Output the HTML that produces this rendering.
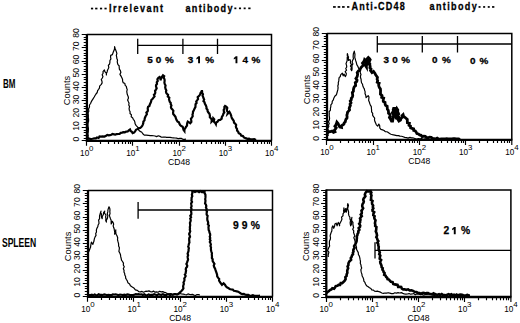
<!DOCTYPE html>
<html><head><meta charset="utf-8"><style>
html,body{margin:0;padding:0;background:#fff;}
body{width:520px;height:323px;overflow:hidden;}
svg{display:block;font-family:"Liberation Sans", sans-serif;}

</style></head><body><div id="w">
<svg width="520" height="323" viewBox="0 0 520 323">
<rect width="520" height="323" fill="#fff"/>
<g><path d="M86.7,34.6H271.5V140.8" fill="none" stroke="#000" stroke-width="1.5"/><path d="M86.9,34.1V140.8H272" fill="none" stroke="#000" stroke-width="2.3"/><path d="M86.7,140.5H81.7M86.7,138.5H83.7M86.7,135.5H83.7M86.7,132.5H83.7M86.7,130.5H83.7M86.7,127.5H81.7M86.7,124.5H83.7M86.7,122.5H83.7M86.7,119.5H83.7M86.7,116.5H83.7M86.7,114.5H81.7M86.7,111.5H83.7M86.7,108.5H83.7M86.7,106.5H83.7M86.7,103.5H83.7M86.7,100.5H81.7M86.7,98.5H83.7M86.7,95.5H83.7M86.7,93.5H83.7M86.7,90.5H83.7M86.7,87.5H81.7M86.7,85.5H83.7M86.7,82.5H83.7M86.7,79.5H83.7M86.7,77.5H83.7M86.7,74.5H81.7M86.7,71.5H83.7M86.7,69.5H83.7M86.7,66.5H83.7M86.7,63.5H83.7M86.7,61.5H81.7M86.7,58.5H83.7M86.7,55.5H83.7M86.7,53.5H83.7M86.7,50.5H83.7M86.7,47.5H81.7M86.7,45.5H83.7M86.7,42.5H83.7M86.7,39.5H83.7M86.7,37.5H83.7M86.7,34.5H81.7M86.5,140.8V145.8M100.5,140.8V144M108.5,140.8V144M114.5,140.8V144M118.5,140.8V144M122.5,140.8V144M125.5,140.8V144M128.5,140.8V144M130.5,140.8V144M132.5,140.8V145.8M146.5,140.8V144M154.5,140.8V144M160.5,140.8V144M165.5,140.8V144M168.5,140.8V144M171.5,140.8V144M174.5,140.8V144M176.5,140.8V144M179.5,140.8V145.8M193.5,140.8V144M201.5,140.8V144M206.5,140.8V144M211.5,140.8V144M215.5,140.8V144M218.5,140.8V144M220.5,140.8V144M223.5,140.8V144M225.5,140.8V145.8M239.5,140.8V144M247.5,140.8V144M253.5,140.8V144M257.5,140.8V144M261.5,140.8V144M264.5,140.8V144M267.5,140.8V144M269.5,140.8V144M271.5,140.8V145.8" stroke="#000" stroke-width="1.15" fill="none"/><text transform="translate(79.1,139.2) rotate(-90)" text-anchor="middle" font-size="8.6">0</text><text transform="translate(79.1,125.93) rotate(-90)" text-anchor="middle" font-size="8.6">10</text><text transform="translate(79.1,112.65) rotate(-90)" text-anchor="middle" font-size="8.6">20</text><text transform="translate(79.1,99.38) rotate(-90)" text-anchor="middle" font-size="8.6">30</text><text transform="translate(79.1,86.1) rotate(-90)" text-anchor="middle" font-size="8.6">40</text><text transform="translate(79.1,72.83) rotate(-90)" text-anchor="middle" font-size="8.6">50</text><text transform="translate(79.1,59.55) rotate(-90)" text-anchor="middle" font-size="8.6">60</text><text transform="translate(79.1,46.27) rotate(-90)" text-anchor="middle" font-size="8.6">70</text><text transform="translate(79.1,33) rotate(-90)" text-anchor="middle" font-size="8.6">80</text><text transform="translate(69.7,90.5) rotate(-90)" text-anchor="middle" font-size="9.3">Counts</text><text x="80.1" y="155.8" font-size="8.2">10</text><text x="89.1" y="151.1" font-size="7.9">0</text><text x="126.3" y="155.8" font-size="8.2">10</text><text x="135.3" y="151.1" font-size="7.9">1</text><text x="172.5" y="155.8" font-size="8.2">10</text><text x="181.5" y="151.1" font-size="7.9">2</text><text x="218.7" y="155.8" font-size="8.2">10</text><text x="227.7" y="151.1" font-size="7.9">3</text><text x="264.9" y="155.8" font-size="8.2">10</text><text x="273.9" y="151.1" font-size="7.9">4</text><text x="179.1" y="165" text-anchor="middle" font-size="8.6">CD48</text><path d="M137.7,45.4H271.5M137.7,38.7V54M182.9,38.7V54M217.5,38.7V54" stroke="#000" stroke-width="1.3" fill="none"/><polyline points="88.7,139 88.07,137.28 88.28,135.51 87.94,133.78 88.3,132 88.35,130.17 88.45,128.34 88.11,126.52 88,124.7 88.13,122.85 88.6,121.02 88.56,119.16 88.3,117.3 88.38,115.8 88.24,114.27 88.14,112.76 88.8,111.3 88.52,109 89.5,106.9 89.45,105.01 90.6,103.5 91.15,102 91.9,100.6 93.06,98.81 94.2,97 95.05,95.47 96,94 97.22,92.5 97.6,90.6 98.66,89.27 99.51,87.86 99.6,86.1 101.3,84.4 102.12,82.88 101.97,81.23 101.27,79.51 102.32,78.02 102.96,76.48 102.13,74.74 103.12,73.24 103,71.6 104.4,69.9 104.84,71.69 106.28,73.08 106.4,75 106.35,73.37 107.13,71.97 107.42,70.43 108.1,69 108.81,67.39 108.33,65.47 109.57,64.01 109.9,62.3 109.92,60.55 110.93,58.92 110.56,57.13 110.7,55.4 112.4,54.6 113.3,52 114.1,50.29 114.57,48.5 114.6,46.6 115.09,48.49 115.8,50.3 116.43,51.95 116.88,53.62 116.31,55.42 116.7,57.1 116.83,58.61 117.53,60.04 117.25,61.61 117.5,63.1 117.94,64.58 119.12,65.77 119.2,67.4 119.36,69.14 120.4,70.7 120.87,72.37 119.95,74.32 120.9,75.9 121.74,77.51 122.52,79.14 122.6,81 123.14,82.63 124.89,83.53 125.2,85.3 126.31,86.44 126.6,88 127.24,89.65 126.77,91.43 127.01,93.12 127.4,94.8 128.16,96.43 128.5,98.11 127.62,99.96 128.3,101.6 129.05,103.23 128.75,104.99 129.56,106.62 129.1,108.4 129.32,110.15 130.13,111.79 130,113.6 131.42,114.66 131.2,116.73 132.6,117.8 133.28,119.28 134.37,120.59 134.88,122.13 135.1,123.8 136.17,125.67 137.7,127.2 138.44,128.65 138.81,130.33 140.2,131.4 141.83,132.25 142.8,133.8 144.26,135.09 146.2,135.2 148.3,135.42 150.4,135.6 151.95,135.58 153.47,135.78 155,136 156.63,136.64 158.37,135.77 160,136.4 161.59,137.27 163.29,137.12 165,137 166.64,137.43 168.32,137.46 170,137.4 171.66,137.66 173.33,137.82 175,138 176.67,138.09 178.3,138.7 180,138.4 181.53,138.41 182.93,139.31 184.46,139.31 186,139.2" fill="none" stroke="#000" stroke-width="1.2" stroke-linejoin="round"/><polyline stroke-width="2.2" points="87.4,139.5 88.5,138.5 90.8,139.1 92.49,138.78 94.17,138.39 95.9,138.3 97.01,137.39 98.61,137.94 99.51,136.37 101,136.6 102.7,136.3 104.5,136.55 106.1,135.7 107.3,134.9 108.71,135.32 110.03,135.19 111.3,134.8 112.58,134 114,134.31 115.41,134.6 116.73,134.09 118.1,134 119.54,133.97 120.7,132.85 122.09,132.62 123.41,132.11 124.9,132.3 126.18,131.61 127.74,131.42 128.79,130.31 130,129.5 130.56,130.92 131.87,131.8 132.6,133.1 134.04,132.53 135.1,131.4 136.01,129.75 137.7,128.9 138.85,128.17 140.2,128 141.26,127.01 142.18,125.93 142.8,124.6 143.27,123.16 143.4,121.58 144.5,120.4 144.62,119.02 144.96,117.72 145.48,116.48 146.2,115.3 146.92,114.05 146.39,112.53 147.63,111.4 147.92,110.06 147.7,108.6 148.03,106.96 149.4,106 149.81,104.5 150.52,103.13 151.1,101.7 151.36,99.96 152.68,98.85 153.6,97.5 154.56,96.4 153.93,94.78 155,93.72 155.3,92.4 155.06,90.88 155.97,89.59 156.69,88.26 156.03,86.65 156.04,85.18 157,83.9 156.78,82.27 157.75,80.91 157.39,79.25 158.4,77.9 159.6,77 160.57,78.57 160.4,80.4 161.1,78.7 161.8,77 163,75.3 164.2,76.2 163.71,77.78 164.51,79.27 164.64,80.81 164.41,82.37 164.7,83.9 165.56,85.5 165.19,87.32 165.6,89 166.32,90.31 165.98,91.83 166.4,93.2 168.1,94.9 167.77,96.46 169.31,97.64 169,99.2 169.35,100.5 169.71,101.8 170.74,102.87 170.7,104.3 171.43,105.47 170.89,107.07 171.31,108.35 172.4,109.4 173.38,110.71 173.08,112.44 173.22,114.02 174.3,115.3 175.48,116.84 176,118.7 176.66,120.23 177.6,121.6 178.95,122.35 179.42,123.76 180.1,125 181.27,126.05 182.7,126.7 183.15,128.18 183.48,129.71 184.4,131 184.43,129.35 185.33,128.05 186.1,126.7 187.01,125.59 187.06,124.19 187.31,122.85 187.8,121.6 189.13,122.34 190.3,123.3 191.38,122.01 191.25,120.38 190.93,118.69 192,117.4 192.75,116.14 192.45,114.62 192.93,113.3 192.97,111.86 193.7,110.6 194.48,108.82 195.4,107.1 195.5,105.68 195.52,104.24 196.6,103.06 196.22,101.53 197.1,100.3 198.07,99.06 197.69,97.24 198.9,96.1 200.1,94.58 200.6,92.7 201.64,91.59 201.9,90.1 202.14,91.46 202.09,92.87 202.97,94.12 202.53,95.6 203.1,96.9 203.54,98.23 204.15,99.53 203.49,101.14 204.59,102.31 204.8,103.7 205.81,105.32 206.5,107.1 206.45,108.56 207.52,109.64 207.55,111.07 208.2,112.3 209.46,113.79 209.9,115.7 209.86,117.31 211.07,118.56 211.78,119.95 211.6,121.6 213.05,120.2 213.3,118.2 214.24,119.22 213.77,120.85 214.24,122.07 215.24,123.06 215.9,124.2 216.18,122.53 217.6,121.6 218.5,120.24 220.1,119.9 221.7,118.7 221.74,117.3 222.4,116.1 223.12,114.92 223.4,113.6 224.32,112.46 223.77,110.99 223.76,109.64 224.62,108.49 224.32,107.07 225.1,105.9 226.5,106.7 227.31,107.98 226.9,109.47 226.95,110.89 228.06,112.12 227.7,113.6 229.4,111.9 230.31,113.57 231.1,115.3 231.4,116.81 231.89,118.24 232.8,119.5 233.77,120.85 234,122.64 235.3,123.8 236.16,124.93 235.86,126.45 236.21,127.75 237,128.9 237.07,130.5 238.14,131.7 238.7,133.1 240.4,134 241.3,135.7 242.95,136.02 243.9,137.4 245.58,138.14 247.3,138.8 249.05,138.55 250.68,139.38 252.4,139.4 254.3,139.13 256,140" fill="none" stroke="#000" stroke-linejoin="miter"/></g>
<g><path d="M326.8,33.4H511.8V139.9" fill="none" stroke="#000" stroke-width="1.5"/><path d="M327,32.9V139.9H512.3" fill="none" stroke="#000" stroke-width="2.3"/><path d="M326.8,139.5H321.8M326.8,137.5H323.8M326.8,134.5H323.8M326.8,131.5H323.8M326.8,129.5H323.8M326.8,126.5H321.8M326.8,123.5H323.8M326.8,121.5H323.8M326.8,118.5H323.8M326.8,115.5H323.8M326.8,113.5H321.8M326.8,110.5H323.8M326.8,107.5H323.8M326.8,105.5H323.8M326.8,102.5H323.8M326.8,99.5H321.8M326.8,97.5H323.8M326.8,94.5H323.8M326.8,91.5H323.8M326.8,89.5H323.8M326.8,86.5H321.8M326.8,83.5H323.8M326.8,81.5H323.8M326.8,78.5H323.8M326.8,76.5H323.8M326.8,73.5H321.8M326.8,70.5H323.8M326.8,68.5H323.8M326.8,65.5H323.8M326.8,62.5H323.8M326.8,60.5H321.8M326.8,57.5H323.8M326.8,54.5H323.8M326.8,52.5H323.8M326.8,49.5H323.8M326.8,46.5H321.8M326.8,44.5H323.8M326.8,41.5H323.8M326.8,38.5H323.8M326.8,36.5H323.8M326.8,33.5H321.8M326.5,139.9V144.9M340.5,139.9V143.1M348.5,139.9V143.1M354.5,139.9V143.1M359.5,139.9V143.1M362.5,139.9V143.1M365.5,139.9V143.1M368.5,139.9V143.1M370.5,139.9V143.1M373.5,139.9V144.9M386.5,139.9V143.1M395.5,139.9V143.1M400.5,139.9V143.1M405.5,139.9V143.1M409.5,139.9V143.1M412.5,139.9V143.1M414.5,139.9V143.1M417.5,139.9V143.1M419.5,139.9V144.9M433.5,139.9V143.1M441.5,139.9V143.1M447.5,139.9V143.1M451.5,139.9V143.1M455.5,139.9V143.1M458.5,139.9V143.1M461.5,139.9V143.1M463.5,139.9V143.1M465.5,139.9V144.9M479.5,139.9V143.1M487.5,139.9V143.1M493.5,139.9V143.1M497.5,139.9V143.1M501.5,139.9V143.1M504.5,139.9V143.1M507.5,139.9V143.1M509.5,139.9V143.1M511.8,139.9V144.9" stroke="#000" stroke-width="1.15" fill="none"/><text transform="translate(319.2,138.3) rotate(-90)" text-anchor="middle" font-size="8.6">0</text><text transform="translate(319.2,124.99) rotate(-90)" text-anchor="middle" font-size="8.6">10</text><text transform="translate(319.2,111.68) rotate(-90)" text-anchor="middle" font-size="8.6">20</text><text transform="translate(319.2,98.36) rotate(-90)" text-anchor="middle" font-size="8.6">30</text><text transform="translate(319.2,85.05) rotate(-90)" text-anchor="middle" font-size="8.6">40</text><text transform="translate(319.2,71.74) rotate(-90)" text-anchor="middle" font-size="8.6">50</text><text transform="translate(319.2,58.43) rotate(-90)" text-anchor="middle" font-size="8.6">60</text><text transform="translate(319.2,45.11) rotate(-90)" text-anchor="middle" font-size="8.6">70</text><text transform="translate(319.2,31.8) rotate(-90)" text-anchor="middle" font-size="8.6">80</text><text transform="translate(309.8,89.45) rotate(-90)" text-anchor="middle" font-size="9.3">Counts</text><text x="320.2" y="154.9" font-size="8.2">10</text><text x="329.2" y="150.2" font-size="7.9">0</text><text x="366.45" y="154.9" font-size="8.2">10</text><text x="375.45" y="150.2" font-size="7.9">1</text><text x="412.7" y="154.9" font-size="8.2">10</text><text x="421.7" y="150.2" font-size="7.9">2</text><text x="458.95" y="154.9" font-size="8.2">10</text><text x="467.95" y="150.2" font-size="7.9">3</text><text x="505.2" y="154.9" font-size="8.2">10</text><text x="514.2" y="150.2" font-size="7.9">4</text><text x="419.3" y="164.1" text-anchor="middle" font-size="8.6">CD48</text><path d="M377.3,44H511.8M377.3,36V52.5M422.3,36V52.5M457.5,36V52.5" stroke="#000" stroke-width="1.3" fill="none"/><polyline points="328.3,136 327.88,134.42 328.5,132.86 328.28,131.28 328.17,129.71 327.79,128.13 328.81,126.58 328.5,125 329.23,123.41 328.44,121.72 329.26,120.14 329.56,118.53 329.4,116.88 329.18,115.23 329.3,113.6 329.11,111.75 330.46,110.22 330.4,108.4 330.82,106.65 330.87,104.78 332.1,103.3 332.22,101.45 333.34,99.94 333.8,98.2 334.79,96.26 336.4,94.8 337.2,92 337.79,89.88 338.1,87.7 337.79,85.96 338.35,84.29 338.27,82.57 338.77,80.9 338.9,79.2 339.12,77.63 340.35,76.46 340.6,74.9 342.3,73.2 343.2,75.8 344,74.1 345.4,76.6 346.15,75.04 346.29,73.43 345.17,71.71 346.59,70.21 345.74,68.52 346.74,66.98 346.55,65.34 345.99,63.67 346.6,62.1 347.18,60.44 347.2,58.73 347.24,57.01 347.92,55.36 347.4,53.6 347.21,55.39 348.54,56.9 348.31,58.7 348.6,60.4 350,59.6 350.6,61.13 350.39,62.79 351.41,64.25 350.43,66.03 351.47,67.49 350.85,69.21 351.7,70.7 352.09,69 352.01,67.27 352,65.54 352.88,63.88 352.13,62.09 352.6,60.4 353.48,58.78 353.14,57.02 353.22,55.3 353.4,53.6 354.3,51.1 354.6,52.64 354.94,54.17 354.88,55.76 354.75,57.36 355.24,58.87 355.6,60.4 356.34,62.51 356.8,64.7 357.85,66.3 358.5,68.1 359.22,69.87 360.2,71.5 360.34,73.04 360.98,74.53 360.46,76.15 360.56,77.7 361.1,79.2 361.22,80.99 361.52,82.73 362.52,84.28 362.9,86 363.46,87.46 364.32,88.84 364.61,90.37 365.16,91.84 365,93.5 365.8,95.54 366.1,97.7 368.2,95.6 368.97,97.09 368.82,98.74 368.64,100.39 369.3,101.9 369.76,103.52 370.37,105.09 371.3,106.56 371.4,108.3 371.6,110.03 371.59,111.82 372.72,113.33 372.6,115.14 373.5,116.7 374.67,118.09 374.48,119.92 374.92,121.55 375.6,123.1 376.36,124.84 377.7,126.2 378.8,124.1 379.74,125.77 379.74,127.82 380.9,129.4 382.54,129.83 384.1,130.5 385.24,131.71 386.97,131.75 388.3,132.6 389.59,133.52 390.97,134.27 392.5,134.7 394.65,135.2 396.8,135.7 398.44,135.62 399.96,136.18 401.57,136.26 403.1,136.8 404.75,137.41 406.45,137.62 408.12,138.07 409.94,137.36 411.6,137.9 413.3,137.94 414.93,138.56 416.56,139.14 418.33,138.65 420,138.9 421.7,138.49 423.29,139.4 425.02,138.93 426.68,139.1 428.32,139.4 430,139.5" fill="none" stroke="#000" stroke-width="1.2" stroke-linejoin="round"/><polyline stroke-width="2.8" points="327.5,131.8 329,131.73 330.5,131.57 332,131.15 333.5,132.46 335,131.8 334.28,130.34 335.32,129.08 336.19,127.8 334.89,126.27 335.8,125 336.44,123.58 336.9,122.1 338.2,123.6 338.81,125.39 339.8,127 341.5,127.4 341.3,125.86 342.6,125 343.9,124.1 344.23,122.81 345.3,121.85 345.5,120.5 345.95,119.2 346.94,118.12 347.1,116.7 346.85,115.15 347.34,113.79 347.47,112.33 348.51,111.1 349.59,109.89 349.2,108.3 349.71,106.92 350.38,105.59 350.05,104 351.03,102.74 350.25,101.04 351.3,99.8 351.29,98.29 352.3,97.04 352.74,95.65 352.56,94.1 352.33,92.54 353.4,91.3 353.42,89.72 353.74,88.24 354.28,86.81 355.62,85.61 355.5,84 355.27,82.55 356.78,81.49 357.07,80.15 355.92,78.49 356.79,77.29 357.3,76 357.65,74.33 357.2,72.48 358.4,71 359.8,70.5 360.27,68.95 361,67.5 362.5,66 363.54,64.84 362.49,63.16 363.5,62 364.21,60.82 364.6,59.5 365.69,60.52 365.5,62 365.66,63.69 365.4,65.46 366.4,67 366.34,65.35 367.3,64 366.63,62.57 366.96,61.29 367.97,60.11 367.24,58.67 368.3,57.5 369.3,58.5 370.15,59.74 369.51,61.1 368.84,62.46 369.84,63.69 369.8,65 370.16,66.35 369.9,67.78 371.05,69.03 370.5,70.5 372,72.5 373.5,71.5 375,73.5 375.63,74.82 376.5,76 377.47,77.42 377.11,79.18 377.7,80.7 377.24,82.26 379.16,83.23 378.62,84.8 378.87,86.19 379.4,87.5 380.38,88.85 380.54,90.4 380.5,92 380.43,94.14 382,95.6 381.68,97.31 383.67,98.16 383.2,99.93 383.31,101.48 385.03,102.44 385.1,104 385.56,105.37 387.12,106.19 387.24,107.73 387.38,109.26 388.3,110.4 388.49,111.84 388.52,113.32 390.07,114.42 389.97,115.93 389.41,117.56 390.4,118.8 391.5,121 392.6,121 392.86,119.62 392.73,118.22 392.76,116.82 393.92,115.51 393.29,114.07 392.4,112.6 393.91,111.32 393.18,109.86 393.6,108.5 394.7,108.5 394.94,109.86 395.46,111.2 395.18,112.62 395.51,113.97 396.06,115.31 395.22,116.77 396.29,118.06 395.7,119.5 396.35,118.18 395.12,116.66 396.62,115.43 396.8,114.06 396.38,112.62 396.9,111.29 396.21,109.83 396.8,108.5 397.8,110 397.51,111.42 398.21,112.74 398.69,114.08 397.52,115.58 398.66,116.86 398.85,118.23 398.12,119.69 398.9,121 400.5,120 400.94,118.55 402.07,117.43 401.92,115.69 403.1,114.6 403.65,116.41 405.2,117.5 406.27,118.44 407.29,119.42 407.3,121 407.37,122.75 409.4,123.29 409.02,125.32 410.5,126.2 410.6,127.8 411.95,128.46 413.6,128.9 413.7,130.5 415.32,130.97 416.2,132.19 416.9,133.6 418.38,133.98 419.62,134.92 421.1,135.3 422.12,136.61 423.85,136.11 425.31,136.27 426.4,137.4 427.96,137.74 429.64,137.2 431.23,137.34 432.7,138.3 434.15,138.58 435.58,138.9 437.18,138.06 438.55,138.9 440,139.2 441.33,138.9 442.66,138.9 444,138.9 445.32,138.9 446.68,138.7 447.99,138.9 449.33,138.9 450.66,138.9 452,138.9 453.34,138.68 454.68,138.61 456,138.9 457.34,138.87 458.66,138.9 460,139.5" fill="none" stroke="#000" stroke-linejoin="miter"/></g>
<g><path d="M87.8,190.4H272.5V296.8" fill="none" stroke="#000" stroke-width="1.5"/><path d="M88,189.9V296.8H273" fill="none" stroke="#000" stroke-width="2.3"/><path d="M87.8,296.5H82.8M87.8,294.5H84.8M87.8,291.5H84.8M87.8,288.5H84.8M87.8,286.5H84.8M87.8,283.5H82.8M87.8,280.5H84.8M87.8,278.5H84.8M87.8,275.5H84.8M87.8,272.5H84.8M87.8,270.5H82.8M87.8,267.5H84.8M87.8,264.5H84.8M87.8,262.5H84.8M87.8,259.5H84.8M87.8,256.5H82.8M87.8,254.5H84.8M87.8,251.5H84.8M87.8,248.5H84.8M87.8,246.5H84.8M87.8,243.5H82.8M87.8,240.5H84.8M87.8,238.5H84.8M87.8,235.5H84.8M87.8,232.5H84.8M87.8,230.5H82.8M87.8,227.5H84.8M87.8,224.5H84.8M87.8,222.5H84.8M87.8,219.5H84.8M87.8,217.5H82.8M87.8,214.5H84.8M87.8,211.5H84.8M87.8,209.5H84.8M87.8,206.5H84.8M87.8,203.5H82.8M87.8,201.5H84.8M87.8,198.5H84.8M87.8,195.5H84.8M87.8,193.5H84.8M87.8,190.5H82.8M87.5,296.8V301.8M101.5,296.8V300M109.5,296.8V300M115.5,296.8V300M120.5,296.8V300M123.5,296.8V300M126.5,296.8V300M129.5,296.8V300M131.5,296.8V300M133.5,296.8V301.8M147.5,296.8V300M156.5,296.8V300M161.5,296.8V300M166.5,296.8V300M169.5,296.8V300M172.5,296.8V300M175.5,296.8V300M178.5,296.8V300M180.5,296.8V301.8M194.5,296.8V300M202.5,296.8V300M207.5,296.8V300M212.5,296.8V300M216.5,296.8V300M219.5,296.8V300M221.5,296.8V300M224.5,296.8V300M226.5,296.8V301.8M240.5,296.8V300M248.5,296.8V300M254.5,296.8V300M258.5,296.8V300M262.5,296.8V300M265.5,296.8V300M268.5,296.8V300M270.5,296.8V300M272.5,296.8V301.8" stroke="#000" stroke-width="1.15" fill="none"/><text transform="translate(80.2,295.2) rotate(-90)" text-anchor="middle" font-size="8.6">0</text><text transform="translate(80.2,281.9) rotate(-90)" text-anchor="middle" font-size="8.6">10</text><text transform="translate(80.2,268.6) rotate(-90)" text-anchor="middle" font-size="8.6">20</text><text transform="translate(80.2,255.3) rotate(-90)" text-anchor="middle" font-size="8.6">30</text><text transform="translate(80.2,242) rotate(-90)" text-anchor="middle" font-size="8.6">40</text><text transform="translate(80.2,228.7) rotate(-90)" text-anchor="middle" font-size="8.6">50</text><text transform="translate(80.2,215.4) rotate(-90)" text-anchor="middle" font-size="8.6">60</text><text transform="translate(80.2,202.1) rotate(-90)" text-anchor="middle" font-size="8.6">70</text><text transform="translate(80.2,188.8) rotate(-90)" text-anchor="middle" font-size="8.6">80</text><text transform="translate(70.8,246.4) rotate(-90)" text-anchor="middle" font-size="9.3">Counts</text><text x="81.2" y="311.8" font-size="8.2">10</text><text x="90.2" y="307.1" font-size="7.9">0</text><text x="127.38" y="311.8" font-size="8.2">10</text><text x="136.38" y="307.1" font-size="7.9">1</text><text x="173.55" y="311.8" font-size="8.2">10</text><text x="182.55" y="307.1" font-size="7.9">2</text><text x="219.72" y="311.8" font-size="8.2">10</text><text x="228.72" y="307.1" font-size="7.9">3</text><text x="265.9" y="311.8" font-size="8.2">10</text><text x="274.9" y="307.1" font-size="7.9">4</text><text x="180.15" y="321" text-anchor="middle" font-size="8.6">CD48</text><path d="M138.1,210H272.5M138.1,201.9V218.7" stroke="#000" stroke-width="1.3" fill="none"/><polyline points="88.3,252.5 89.21,250.7 89.9,248.8 90.54,247.36 90.7,245.8 91.03,243.95 91.4,242.1 92.9,244.3 93.43,242.64 94,241 94.34,238.89 95.1,236.9 96.02,235.4 95.71,233.54 96.5,232 96.35,230.12 96.85,228.4 97.78,226.77 98.1,225 98.98,223.54 98.9,221.86 98.6,220.13 99.6,218.7 99.54,217.12 99.61,215.56 100.19,214.09 100.48,212.58 101,211.1 100.68,212.71 101.5,214.14 101.28,215.73 101.54,217.25 102.2,218.7 102.29,216.45 103.4,214.5 103.57,212.62 104.7,211.1 104.39,213.16 105.99,214.93 105.6,217 105.95,218.69 105.72,220.46 106.4,222.1 106.28,220.35 107.23,218.75 107.63,217.07 107.81,215.36 107.28,213.56 107.8,211.9 107.88,210.13 108.39,208.45 109,206.8 109.8,208.44 109.97,210.14 109.82,211.87 110.04,213.56 109.42,215.33 109.9,217 110.45,218.68 111.16,220.33 111.15,222.12 111.2,223.9 112.4,221.3 113.21,222.7 113.66,224.17 113.16,225.83 113.6,227.3 114.21,228.95 114.42,230.65 114.78,232.34 114.6,234.1 115.35,231.99 115.8,229.8 115.7,231.38 115.8,232.92 116.12,234.42 117,235.8 117.7,237.7 117.5,239.76 118,241.7 118.6,243.81 118.6,246 119.41,247.66 119.21,249.5 118.9,251.35 119.8,253 120.48,254.78 120.72,256.67 121.2,258.5 121.51,260.15 122.5,261.5 123.47,263.12 123.3,265 124.25,266.7 123.32,268.68 124.1,270.4 123.96,272.05 124.68,273.49 124.82,275.08 125.6,276.5 125.66,278.16 126.45,279.54 127.3,280.9 127.93,282.84 129.6,284 130.4,285.69 131.9,286.8 134.2,288.3 135.37,289.91 137.3,290.4 138.65,291.56 140.4,291.9 142.01,291.41 143.5,292.2 145.8,291.2 147.34,291.29 148.92,290.87 150.4,291.6 151.91,291.99 153.48,291.11 154.96,292.15 156.5,291.9 158.07,292.27 159.63,291.26 161.2,291.9 162.84,291.58 164.26,292.46 165.8,292.7 167.22,293.6 168.75,293.89 170.4,293.5 171.88,294.05 173.4,294.28 175,293.78 176.5,294.2 178.14,294.23 179.6,293.5 181.38,293.92 183.21,294.1 185,294.5 186.49,294.79 188.02,293.93 189.51,294.41 191,294.67 192.51,294.34 193.99,295.09 195.48,295.52 197.01,294.55 198.51,294.63 200,295" fill="none" stroke="#000" stroke-width="1.2" stroke-linejoin="round"/><polyline stroke-width="2.2" points="87.8,295.3 89.15,295.2 90.5,295.04 91.85,294.7 93.24,295.52 94.55,294.43 95.93,294.97 97.31,295.39 98.62,294.35 100,294.8 101.43,294.89 102.85,295 104.3,294.33 105.72,294.77 107.14,295.19 108.57,294.91 110,295 111.44,295.21 112.84,294.47 114.27,294.51 115.7,294.3 117.14,294.72 118.59,295.17 120,294.6 121.42,294.77 122.84,295.04 124.29,294.63 125.7,295.12 127.16,294.41 128.58,294.69 130,295 131.44,295.14 132.87,295.13 134.28,294.69 135.69,294.22 137.13,294.36 138.55,294.22 140,294.5 141.44,294.31 142.84,295.01 144.3,294.35 145.69,295.25 147.12,295.31 148.6,294.39 150,295 151.42,294.8 152.86,294.88 154.26,294.26 155.71,294.68 157.16,295.2 158.55,294.19 160,294.6 161.42,294.77 162.88,294.26 164.28,294.87 165.7,295.3 167.16,294.53 168.6,294.35 170,295 171.37,294.42 172.8,294.89 174.17,294.18 175.57,294.18 177,294.6 178.8,293.5 180,292.35 181.2,291.2 182.7,289.6 183.45,288.29 183.11,286.78 183.33,285.38 183.86,284.03 183.47,282.51 184.2,281.2 184.52,279.89 184.27,278.48 185.01,277.24 185.66,275.98 184.82,274.47 185.64,273.24 185.8,271.9 186.1,270.6 185.73,269.22 186.04,267.92 187.07,266.72 187.25,265.41 186.38,263.96 187,262.7 187.51,261.17 188.07,259.66 187.8,258 187.6,256.56 188.15,255.17 187.58,253.7 188.08,252.31 188.56,250.92 188.57,249.49 188.9,248.09 188.19,246.6 188.61,245.21 188.9,243.8 189.45,242.43 189.23,241.01 189.18,239.6 189.23,238.19 190.04,236.85 189.66,235.41 189.11,233.95 189.8,232.6 190.25,231.24 189.77,229.81 189.98,228.43 189.81,227.03 190.17,225.66 190.12,224.26 189.92,222.86 190.5,221.5 190.74,220.11 190.2,218.67 191.1,217.32 190.28,215.86 191.27,214.52 191.39,213.12 191.11,211.7 191.2,210.3 191.5,208.92 191,207.51 191.63,206.15 191.31,204.75 191.13,203.35 192.06,202 191.43,200.58 191.6,199.2 191.59,197.67 192.31,196.2 191.86,194.63 192.36,193.14 192.3,191.6 193.67,191.21 195.03,192.01 196.4,191.31 197.77,191.06 199.13,192.17 200.5,191.21 201.87,192.14 203.23,192.18 204.6,191.6 204.59,193.13 205.42,194.59 205.49,196.12 205.43,197.65 205.2,199.2 205.47,200.57 205.34,201.99 205.06,203.42 205.92,204.73 206.32,206.09 205.95,207.53 206.6,208.87 206.3,210.3 206.99,211.63 206.63,213.11 206.67,214.53 207.62,215.83 207.36,217.29 207.26,218.73 207.39,220.14 207.9,221.5 208.24,222.87 207.84,224.34 208.89,225.61 208.44,227.09 208.58,228.48 208.65,229.89 209.31,231.21 209.5,232.6 210.07,233.91 210.22,235.24 209.74,236.62 210.25,237.93 209.79,239.31 210.54,240.61 209.79,242 210.55,243.3 210.89,244.62 210.4,246 211.01,247.4 210.91,248.91 211.02,250.38 211.45,251.81 211.93,253.22 211.79,254.74 212,256.2 211.85,257.88 212.71,259.31 212.61,260.97 213.5,262.4 214.45,263.81 213.73,265.65 214.25,267.17 215.1,268.6 215.55,270.15 216.07,271.68 216.6,273.2 217.09,274.78 217.2,276.49 218.2,277.9 219.18,278.98 219.04,280.5 219.7,281.7 220.81,283.28 222,284.8 223.6,283.3 224.94,284.71 225.9,286.4 226.9,287.38 228.2,287.9 229.63,288.94 231.3,289.5 232.77,289.56 233.81,290.72 235.2,291 236.76,291.35 238.3,291.8 239.61,292.56 240.82,293.47 242.2,294.1 243.83,293.84 245.25,294.76 246.8,294.9 248.35,294.95 249.81,295.75 251.4,295.5 252.84,295.21 254.26,295.8 255.69,295.8 257.13,295.78 258.56,295.8 260,295.7" fill="none" stroke="#000" stroke-linejoin="miter"/></g>
<g><path d="M326.1,190H510.9V297" fill="none" stroke="#000" stroke-width="1.5"/><path d="M326.3,189.5V297H511.4" fill="none" stroke="#000" stroke-width="2.3"/><path d="M326.1,297.5H321.1M326.1,294.5H323.1M326.1,291.5H323.1M326.1,288.5H323.1M326.1,286.5H323.1M326.1,283.5H321.1M326.1,280.5H323.1M326.1,278.5H323.1M326.1,275.5H323.1M326.1,272.5H323.1M326.1,270.5H321.1M326.1,267.5H323.1M326.1,264.5H323.1M326.1,262.5H323.1M326.1,259.5H323.1M326.1,256.5H321.1M326.1,254.5H323.1M326.1,251.5H323.1M326.1,248.5H323.1M326.1,246.5H323.1M326.1,243.5H321.1M326.1,240.5H323.1M326.1,238.5H323.1M326.1,235.5H323.1M326.1,232.5H323.1M326.1,230.5H321.1M326.1,227.5H323.1M326.1,224.5H323.1M326.1,222.5H323.1M326.1,219.5H323.1M326.1,216.5H321.1M326.1,214.5H323.1M326.1,211.5H323.1M326.1,208.5H323.1M326.1,206.5H323.1M326.1,203.5H321.1M326.1,200.5H323.1M326.1,198.5H323.1M326.1,195.5H323.1M326.1,192.5H323.1M326.1,190.5H321.1M326.5,297V302M340.5,297V300.2M348.5,297V300.2M353.5,297V300.2M358.5,297V300.2M362.5,297V300.2M365.5,297V300.2M367.5,297V300.2M370.5,297V300.2M372.5,297V302M386.5,297V300.2M394.5,297V300.2M400.5,297V300.2M404.5,297V300.2M408.5,297V300.2M411.5,297V300.2M414.5,297V300.2M416.5,297V300.2M418.5,297V302M432.5,297V300.2M440.5,297V300.2M446.5,297V300.2M450.5,297V300.2M454.5,297V300.2M457.5,297V300.2M460.5,297V300.2M462.5,297V300.2M464.5,297V302M478.5,297V300.2M486.5,297V300.2M492.5,297V300.2M496.5,297V300.2M500.5,297V300.2M503.5,297V300.2M506.5,297V300.2M508.5,297V300.2M510.9,297V302" stroke="#000" stroke-width="1.15" fill="none"/><text transform="translate(318.5,295.4) rotate(-90)" text-anchor="middle" font-size="8.6">0</text><text transform="translate(318.5,282.02) rotate(-90)" text-anchor="middle" font-size="8.6">10</text><text transform="translate(318.5,268.65) rotate(-90)" text-anchor="middle" font-size="8.6">20</text><text transform="translate(318.5,255.28) rotate(-90)" text-anchor="middle" font-size="8.6">30</text><text transform="translate(318.5,241.9) rotate(-90)" text-anchor="middle" font-size="8.6">40</text><text transform="translate(318.5,228.53) rotate(-90)" text-anchor="middle" font-size="8.6">50</text><text transform="translate(318.5,215.15) rotate(-90)" text-anchor="middle" font-size="8.6">60</text><text transform="translate(318.5,201.78) rotate(-90)" text-anchor="middle" font-size="8.6">70</text><text transform="translate(318.5,188.4) rotate(-90)" text-anchor="middle" font-size="8.6">80</text><text transform="translate(309.1,246.3) rotate(-90)" text-anchor="middle" font-size="9.3">Counts</text><text x="319.5" y="312" font-size="8.2">10</text><text x="328.5" y="307.3" font-size="7.9">0</text><text x="365.7" y="312" font-size="8.2">10</text><text x="374.7" y="307.3" font-size="7.9">1</text><text x="411.9" y="312" font-size="8.2">10</text><text x="420.9" y="307.3" font-size="7.9">2</text><text x="458.1" y="312" font-size="8.2">10</text><text x="467.1" y="307.3" font-size="7.9">3</text><text x="504.3" y="312" font-size="8.2">10</text><text x="513.3" y="307.3" font-size="7.9">4</text><text x="418.5" y="321.2" text-anchor="middle" font-size="8.6">CD48</text><path d="M375,250.3H510.9M375,242.3V258.4" stroke="#000" stroke-width="1.3" fill="none"/><polyline points="328.3,257 328.14,255.4 328.45,253.8 328.9,252.19 327.57,250.61 328.2,249 328.84,247.5 329.65,246.03 329.4,244.3 329.4,242.61 329.46,240.93 330.3,239.4 330.5,237.7 330.11,235.93 330.56,234.26 331.1,232.6 331.84,230.98 331.92,229.24 332,227.5 332.8,225.8 333.7,228.3 334.57,226.28 334.9,224.1 336.2,223.2 337.1,225.8 337.59,224.06 338.3,222.4 339.07,224.05 339.6,225.8 339.52,223.88 340.52,222.33 341.3,220.7 341.98,219.06 341.51,217.14 343.01,215.71 343,213.9 343.85,212.49 343.58,210.92 343.76,209.41 343.9,207.9 344.29,210 344.7,212.1 345.82,210.58 345.6,208.7 345.33,210.56 346.4,212.1 346.59,210.38 346.86,208.68 347.83,207.1 347.47,205.29 347.8,203.6 348.44,205.28 348,207.04 347.62,208.79 348.21,210.47 348.63,212.17 348.5,213.9 348.94,215.71 349.9,217.3 349.97,219.01 350.58,220.67 350.17,222.42 350.28,224.12 350.7,225.8 351.51,224.18 351.53,222.45 351.11,220.66 351.61,218.99 351.9,217.3 351.55,219.09 351.77,220.79 352.97,222.35 352.9,224.1 353.1,225.8 353.61,227.46 352.68,229.25 353.76,230.88 353.6,232.6 354.18,234.25 354.78,235.9 353.78,237.78 354.6,239.4 355.03,241.26 355.34,243.15 355.8,245 356.5,247.2 356.53,249.19 357.35,250.92 358.3,252.6 358.39,254.47 359.36,256.11 359.79,257.89 360.1,259.7 360.47,261.49 360.29,263.37 361,265.1 361.17,266.6 361.7,268.06 360.86,269.66 361.06,271.15 361.36,272.64 361.9,274.1 362.14,276.02 363.13,277.69 363.7,279.5 363.86,281.18 364.95,282.48 365.5,284 366.52,285.68 368.2,286.7 369.47,287.72 370.9,288.5 371.73,289.9 373.46,290.08 374.5,291.2 376.02,291.28 377.57,291.16 379.01,291.69 380.46,292.15 381.85,292.96 383.31,293.34 384.9,293 386.54,293.19 388.19,292.72 389.83,293.09 391.48,293.57 393.12,293.69 394.77,292.74 396.41,293.11 398.06,292.69 399.7,293 401.3,292.59 402.81,293.39 404.35,293.82 405.9,294.15 407.48,294 409.08,293.56 410.6,294.23 412.19,293.95 413.8,293.45 415.26,294.85 416.91,293.84 418.45,294.22 420,294.5 421.57,294.04 423.06,295.07 424.61,294.83 426.17,294.44 427.7,294.64 429.24,294.74 430.8,294.39 432.32,294.85 433.84,295.38 435.36,295.68 436.9,295.77 438.49,294.77 440,295.5" fill="none" stroke="#000" stroke-width="1.2" stroke-linejoin="round"/><polyline stroke-width="2.6" points="326.5,293 327.56,292.05 328.7,291.2 329.94,290.13 331.4,289.4 332.34,288.28 334.06,288.72 335,287.6 335.73,286.07 337.4,285.8 338.6,284.9 340.08,284.87 340.7,283.1 342.2,283.1 343.61,281.81 344.9,280.4 345.64,278.97 345.35,277.14 346.6,275.9 346.63,274.3 347.37,272.8 347.2,271.16 347.5,269.6 348.15,268.17 347.56,266.49 348.4,265.1 348.44,263.2 349.3,261.5 351.1,259.7 350.79,258.11 351.71,256.77 352,255.3 353.01,254.23 352.86,252.82 353.5,251.64 353.26,250.21 353.8,249 354.62,247.77 354.1,246.1 354.83,244.84 355.6,243.6 356.24,242.27 356.68,240.89 356.7,239.4 356.92,238.01 356.74,236.52 357.36,235.23 357.61,233.85 358.4,232.6 358.3,231.09 359.37,229.77 358.65,228.15 359.98,226.87 360.21,225.41 359.15,223.74 360.1,222.4 360.12,221.08 360.51,219.82 359.99,218.41 360.83,217.23 361.8,216.07 360.76,214.57 361.74,213.41 361.8,212.1 361.45,210.66 362.41,209.47 363.15,208.23 362.3,206.7 362.24,205.32 362.6,204.01 363.5,202.8 363.81,201.47 363.23,199.98 363.57,198.65 364.47,197.43 365.38,196.21 364.83,194.72 365.2,193.4 365.92,192.2 366.9,191.2 368.75,191.42 370.6,191.2 371.37,192.54 370.72,194.01 371.5,195.35 371.1,196.8 371.17,198.29 370.86,199.83 372.53,201.05 371.98,202.64 372.15,204.11 373.11,205.45 372.8,207 373.37,208.28 372.42,209.78 372.61,211.12 374.2,212.24 373.47,213.72 373.29,215.11 374.62,216.27 374.22,217.69 374.6,219 375.52,220.26 375.21,221.69 374.92,223.13 375.26,224.47 375.17,225.88 376.45,227.08 376.24,228.5 376.2,229.9 375.79,231.38 376.41,232.74 376.79,234.13 377.04,235.54 376.29,237.07 377.11,238.4 377.4,239.8 378.35,241.11 377.3,242.69 378.23,244.01 378.25,245.44 378.78,246.81 378.6,248.27 378.7,249.7 379.22,251.14 379.83,252.55 379.22,254.17 380.29,255.52 379.9,257.1 379.69,258.67 381.13,259.98 380.18,261.67 380.37,263.18 381.1,264.6 381.52,265.83 381.62,267.17 382.73,268.17 382.41,269.66 383.3,270.73 383.6,272 384.61,273.03 384.19,274.79 385.62,275.6 386.1,276.9 387.17,277.68 387.54,279.16 389.02,279.53 389.8,280.6 390.89,281.76 392.62,282.08 393.22,283.89 394.8,284.4 396.19,284.65 397.57,284.95 398.14,286.88 399.7,286.8 401.18,286.96 401.88,288.69 403.1,289.37 404.7,289.3 406.29,289.87 408.15,289.34 409.6,290.5 411.44,290.25 413.05,290.92 414.6,291.8 416.28,292.03 417.82,292.77 419.5,293 420.85,293.86 422.35,293 423.79,292.77 425.15,293.56 426.62,292.99 428.04,293.03 429.4,293.8 430.77,293.97 432.13,294.27 433.56,293.35 434.9,294.04 436.25,294.53 437.62,294.7 439.02,294.17 440.35,295.06 441.79,293.99 443.11,294.94 444.48,295.11 445.84,295.37 447.25,294.83 448.66,294.28 450,295 451.35,294.31 452.67,295.11 454.01,294.58 455.33,295.34 456.68,294.5 457.99,295.65 459.34,294.79 460.69,294.49 462.01,294.78 463.34,295.26 464.66,295.46 466,295.22 467.35,294.91 468.67,295.44 470,295.5" fill="none" stroke="#000" stroke-linejoin="miter"/></g>
<text x="147.28 155.85 164.99" y="62.6" font-size="9.9" font-weight="bold" stroke="#000" stroke-width="0.3">50%</text>
<polygon points="200,56.17 200,63.2 198.1,63.2 198.1,58.57 196.4,59.47 196.4,57.97 198.4,56.17" fill="#000"/>
<text x="187.7 205.19" y="63.2" font-size="9.9" font-weight="bold" stroke="#000" stroke-width="0.3">3%</text>
<polygon points="237.4,56.17 237.4,63.2 235.5,63.2 235.5,58.57 233.8,59.47 233.8,57.97 235.8,56.17" fill="#000"/>
<text x="242.6 251.39" y="63.2" font-size="9.9" font-weight="bold" stroke="#000" stroke-width="0.3">4%</text>
<text x="383.55 392.3 401.19" y="63" font-size="9.9" font-weight="bold" stroke="#000" stroke-width="0.3">30%</text>
<text x="432 441.99" y="63" font-size="9.9" font-weight="bold" stroke="#000" stroke-width="0.3">0%</text>
<text x="470.05 479.44" y="64.2" font-size="9.9" font-weight="bold" stroke="#000" stroke-width="0.3">0%</text>
<text x="233.04 241.74 250.77" y="229.3" font-size="10.3" font-weight="bold" stroke="#000" stroke-width="0.25">99%</text>
<polygon points="455.7,226.89 455.7,234.2 453.8,234.2 453.8,229.29 452.1,230.19 452.1,228.69 454.1,226.89" fill="#000"/>
<text x="443.42 461.02" y="234.2" font-size="10.3" font-weight="bold" stroke="#000" stroke-width="0.25">2%</text>
<text transform="translate(109,11.9) scale(0.8,1)" font-size="11.3" font-weight="bold" stroke="#000" stroke-width="0.3" textLength="67.38" lengthAdjust="spacing">Irrelevant</text>
<text transform="translate(185.5,11.5) scale(0.8,1)" font-size="11.3" font-weight="bold" stroke="#000" stroke-width="0.3" textLength="58.75" lengthAdjust="spacing">antibody</text>
<text transform="translate(351.5,9.9) scale(0.8,1)" font-size="11.3" font-weight="bold" stroke="#000" stroke-width="0.3" textLength="66.63" lengthAdjust="spacing">Anti-CD48</text>
<text transform="translate(429.5,10) scale(0.8,1)" font-size="11.3" font-weight="bold" stroke="#000" stroke-width="0.3" textLength="59" lengthAdjust="spacing">antibody</text>
<rect x="90.95" y="7.7" width="2.2" height="1.7" fill="#000"/>
<rect x="95.15" y="7.7" width="2.3" height="1.7" fill="#000"/>
<rect x="99.95" y="7.7" width="2.2" height="1.7" fill="#000"/>
<rect x="104.45" y="7.7" width="2.2" height="1.7" fill="#000"/>
<rect x="234.35" y="7.5" width="2" height="1.7" fill="#000"/>
<rect x="238.95" y="7.5" width="2.1" height="1.7" fill="#000"/>
<rect x="243.65" y="7.5" width="2" height="1.7" fill="#000"/>
<rect x="248.25" y="7.5" width="2.3" height="1.7" fill="#000"/>
<rect x="333.05" y="6.1" width="2.7" height="1.7" fill="#000"/>
<rect x="337.65" y="6.1" width="2.6" height="1.7" fill="#000"/>
<rect x="342.05" y="6.1" width="2.6" height="1.7" fill="#000"/>
<rect x="347.05" y="6.1" width="2.3" height="1.7" fill="#000"/>
<rect x="478.55" y="6.1" width="2" height="1.7" fill="#000"/>
<rect x="483.15" y="6.1" width="2" height="1.7" fill="#000"/>
<rect x="487.75" y="6.1" width="2" height="1.7" fill="#000"/>
<rect x="492.05" y="6.1" width="2.3" height="1.7" fill="#000"/>
<text transform="translate(3.1,87.7) scale(0.66,1)" font-size="12.1" font-weight="bold">BM</text>
<text transform="translate(1.9,246.7) scale(0.71,1)" font-size="12.1" font-weight="bold">SPLEEN</text>
</svg>
</div></body></html>
